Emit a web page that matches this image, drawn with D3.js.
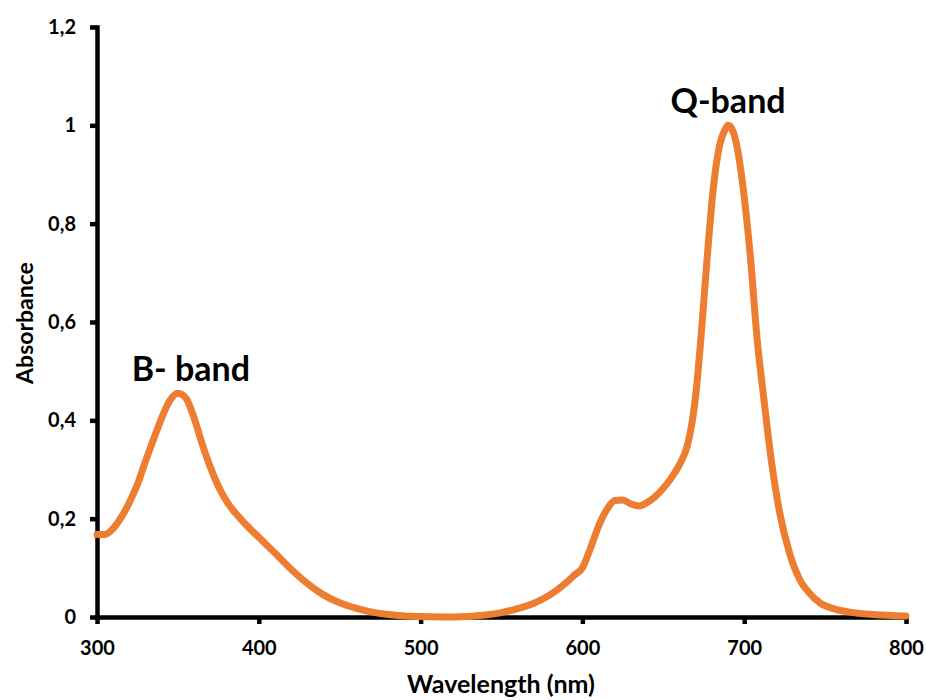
<!DOCTYPE html>
<html>
<head>
<meta charset="utf-8">
<script src="https://cdn.jsdelivr.net/npm/d3@7"></script>
<style>
  body { margin: 0; background: #fff; }
  text { font-family: Lato, "Open Sans", sans-serif; font-weight: bold; fill: #000; }
</style>
</head>
<body>
<svg id="chart" width="926" height="700"></svg>
<script>
const wavelength = [300,305,310,315,320,325,330,335,340,345,350,355,360,365,370,375,380,390,400,410,420,430,440,450,460,470,480,490,500,520,540,550,560,570,580,590,595,600,605,610,615,620,625,630,635,640,645,650,655,660,665,668,670,673,677,681,685,688,690,692,695,700,704,708,712,717,722,728,735,740,747,755,765,780,800];
const absorbance = [0.168,0.168,0.18,0.203,0.233,0.27,0.317,0.362,0.405,0.44,0.455,0.445,0.405,0.352,0.305,0.266,0.236,0.195,0.162,0.13,0.097,0.068,0.045,0.029,0.018,0.01,0.005,0.002,0.001,0,0.004,0.009,0.017,0.028,0.045,0.07,0.085,0.1,0.14,0.185,0.218,0.237,0.238,0.23,0.226,0.233,0.245,0.262,0.283,0.31,0.35,0.4,0.45,0.557,0.726,0.875,0.962,0.99,1.0,0.995,0.965,0.855,0.726,0.565,0.448,0.313,0.211,0.13,0.072,0.05,0.028,0.017,0.01,0.005,0.002];
const xTicks = [300,400,500,600,700,800];
const yTicks = [0,0.2,0.4,0.6,0.8,1,1.2];
const bandLabels = [
  {text: "B- band", wl: 358, a: 0.48},
  {text: "Q-band", wl: 690, a: 1.025}
];

const svg = d3.select("#chart");
const x = d3.scaleLinear().domain([300, 800]).range([97, 906]);
const y = d3.scaleLinear().domain([0, 1.2]).range([617, 27]);

const data = wavelength.map((w, i) => ({w: w, a: absorbance[i]}));

// axe y
svg.append("g")
  .attr("transform", "translate(" + x(300) + ",0)")
  .call(d3.axisLeft(y).tickValues(yTicks).tickSize(7).tickSizeOuter(0).tickPadding(14)
    .tickFormat(d => String(d).replace(".", ",")));

// axe x
svg.append("g")
  .attr("transform", "translate(0," + y(0) + ")")
  .call(d3.axisBottom(x).tickValues(xTicks).tickSize(7).tickSizeOuter(0).tickPadding(17));

svg.selectAll(".domain").attr("stroke", "#000").attr("stroke-width", 4.5).attr("stroke-linecap", "square");
svg.selectAll(".tick line").attr("stroke", "#000").attr("stroke-width", 4.5);
svg.selectAll(".tick text").style("font-size", "20px").attr("fill", "#000");

// courbe
svg.append("path")
  .datum(data)
  .attr("fill", "none")
  .attr("stroke", "#ED7D31")
  .attr("stroke-width", 7)
  .attr("stroke-linejoin", "round")
  .attr("stroke-linecap", "round")
  .attr("d", d3.line().x(d => x(d.w)).y(d => y(d.a)).curve(d3.curveMonotoneX));

// titres des axes
svg.append("text")
  .attr("x", 501)
  .attr("y", 693)
  .attr("text-anchor", "middle")
  .style("font-size", "25px")
  .text("Wavelength (nm)");

svg.append("text")
  .attr("transform", "translate(33,323) rotate(-90)")
  .attr("text-anchor", "middle")
  .style("font-size", "23px")
  .text("Absorbance");

// annotations des bandes
svg.selectAll(".band")
  .data(bandLabels)
  .enter().append("text")
  .attr("class", "band")
  .attr("x", d => x(d.wl))
  .attr("y", d => y(d.a))
  .attr("text-anchor", "middle")
  .style("font-size", "34px")
  .text(d => d.text);
</script>
</body>
</html>
